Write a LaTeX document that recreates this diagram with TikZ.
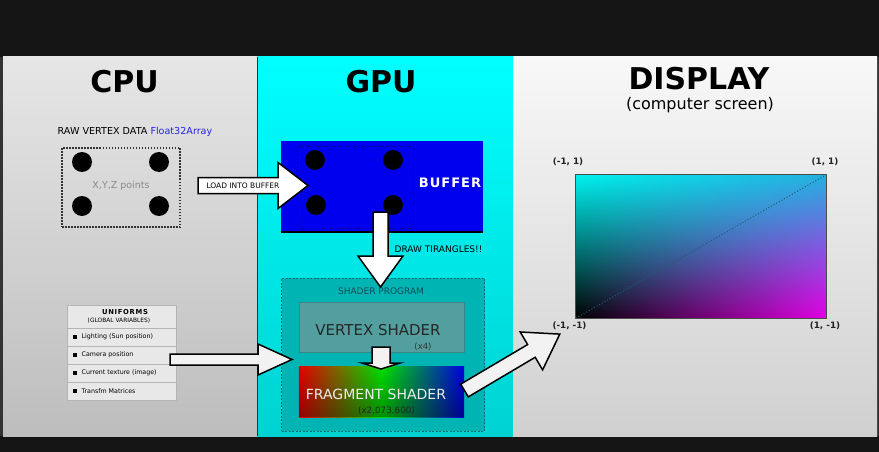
\documentclass[tikz,border=0pt]{standalone}
\usepackage{fontspec}
\setmainfont{DejaVu Sans}
\usetikzlibrary{calc,fadings}
\definecolor{bgdark}{HTML}{151515}
\definecolor{edgegray}{HTML}{333333}
\definecolor{cputop}{HTML}{E6E6E6}
\definecolor{cpubot}{HTML}{BDBDBD}
\definecolor{gputop}{HTML}{00FFFF}
\definecolor{gpubot}{HTML}{00D2D2}
\definecolor{disptop}{HTML}{F8F8F8}
\definecolor{dispbot}{HTML}{D0D0D0}
\definecolor{floatblue}{HTML}{2424E0}
\definecolor{bufblue}{HTML}{0000EE}
\definecolor{bufline}{HTML}{000080}
\definecolor{progteal}{HTML}{00B4B4}
\definecolor{progline}{HTML}{0A6E6E}
\definecolor{progtext}{HTML}{0B4F55}
\definecolor{vertfill}{HTML}{539E9E}
\definecolor{vertline}{HTML}{3F8585}
\definecolor{fragred}{HTML}{E80000}
\definecolor{fraggreen}{HTML}{00E000}
\definecolor{fragblue}{HTML}{0000E0}
\definecolor{scrcyan}{HTML}{00F2EE}
\definecolor{scrtr}{HTML}{24B0E0}
\definecolor{scrmag}{HTML}{E400E4}
\definecolor{scrdiag}{HTML}{1A5F70}
\definecolor{arrowfill}{HTML}{F2F2F2}
\definecolor{unifill}{HTML}{E8E8E8}
\definecolor{uniline}{HTML}{B4B4B4}
\definecolor{pointgray}{HTML}{8A8A8A}
\definecolor{labeldark}{HTML}{222222}

\pgfdeclarehorizontalshading{rgbshade}{100bp}{color(0bp)=(fragred); color(25bp)=(fragred); color(50bp)=(fraggreen); color(75bp)=(fragblue); color(100bp)=(fragblue)}

\newcommand{\setfs}[1]{\fontsize{#1}{#1}\selectfont}

% block arrow: #1 start, #2 tip, #3 shaft half width, #4 head half width, #5 head length, #6 style
\newcommand{\blockarr}[6]{%
  \path let \p1=($(#2)-(#1)$) in \pgfextra{%
    \pgfmathparse{atan2(\y1,\x1)}\xdef\baang{\pgfmathresult}%
    \pgfmathparse{veclen(\x1,\y1)}\xdef\balen{\pgfmathresult}};
  \begin{scope}[shift={(#1)}, rotate=\baang]
    \draw[#6] (0,-#3) -- ({\balen-#5},-#3) -- ({\balen-#5},-#4) -- (\balen,0)
      -- ({\balen-#5},#4) -- ({\balen-#5},#3) -- (0,#3) -- cycle;
  \end{scope}}

\tikzset{
  blockarrow/.style={fill=arrowfill, draw=black, line width=1.5pt, line join=miter},
  dotnode/.style={circle, fill=black, minimum size=20pt, inner sep=0pt},
  titletext/.style={font=\setfs{30}\bfseries, inner sep=0pt},
  unirow/.style={draw=uniline, fill=unifill, line width=0.6pt, minimum width=109pt, minimum height=18pt, inner sep=0pt},
  unitext/.style={anchor=west, font=\setfs{6.3}, inner sep=0pt},
  unibullet/.style={fill=black, minimum size=4.5pt, inner sep=0pt},
  corner/.style={font=\setfs{8.8}\bfseries, text=labeldark, inner sep=0pt},
}

\begin{document}
\begin{tikzpicture}[x=1pt, y=-1pt]
\useasboundingbox (0,0) rectangle (879,452);
% frame
\fill[bgdark] (0,0) rectangle (879,452);
\fill[edgegray] (0,57) rectangle (3,436);
\fill[edgegray] (877,57) rectangle (879,436);
% panels
\shade[top color=cputop, bottom color=cpubot] (3,57) rectangle (257,436);
\shade[top color=gputop, bottom color=gpubot] (257,57) rectangle (513,436);
\shade[top color=disptop, bottom color=dispbot] (513,57) rectangle (877,436);
\draw[edgegray, line width=1.3pt] (257.5,57) -- (257.5,436);

% titles
\node[titletext] (cpu) at (124.5,81.5) {CPU};
\node[titletext] (gpu) at (381,81.5) {GPU};
\node[titletext] (disp) at (699,79) {DISPLAY};
\node[font=\setfs{16}, inner sep=0pt] (dispsub) at (700,105) {(computer screen)};

% CPU raw vertex data
\node[anchor=base, font=\setfs{9.6}, inner sep=0pt] (raw) at (135,134) {RAW VERTEX DATA \textcolor{floatblue}{Float32Array}};
\node[draw=edgegray, dash pattern=on 1.5pt off 1.5pt, line width=1.3pt, minimum width=118pt, minimum height=79pt, inner sep=0pt] (vbox) at (121,187.5) {};
\node[dotnode] (c1) at (82,162) {};
\node[dotnode] (c2) at (159,162) {};
\node[dotnode] (c3) at (82,206) {};
\node[dotnode] (c4) at (159,206) {};
\node[anchor=base, font=\setfs{9.5}, text=pointgray, inner sep=0pt] (xyz) at (121,188.5) {X,Y,Z points};

% uniforms table
\node[unirow, minimum height=23pt] (uhead) at (121.5,316.5) {};
\node[font=\setfs{6.8}\bfseries, inner sep=0pt] (uname) at (125,312.5) {\addfontfeature{LetterSpace=10}UNIFORMS};
\node[font=\setfs{5.9}, inner sep=0pt] (usub) at (119,320.5) {(GLOBAL VARIABLES)};
\node[unirow] (r1) at (121.5,337) {};
\node[unirow] (r2) at (121.5,355) {};
\node[unirow] (r3) at (121.5,373) {};
\node[unirow] (r4) at (121.5,391) {};
\node[unibullet] (b1) at (75,337) {};
\node[unibullet] (b2) at (75,355) {};
\node[unibullet] (b3) at (75,373) {};
\node[unibullet] (b4) at (75,391) {};
\node[unitext] (t1) at (81.5,337) {Lighting (Sun position)};
\node[unitext] (t2) at (81.5,355) {Camera position};
\node[unitext] (t3) at (81.5,373) {Current texture (image)};
\node[unitext] (t4) at (81.5,391) {Transfm Matrices};

% buffer
\node[fill=bufblue, minimum width=202pt, minimum height=91pt, inner sep=0pt] (buf) at (382,186.5) {};
\draw[black, line width=2pt] (buf.south west) -- (buf.south east);
\node[draw=bufline, dash pattern=on 1.2pt off 1.5pt, line width=1pt, minimum width=116pt, minimum height=82pt, inner sep=0pt] (bufin) at (355,187) {};
\node[dotnode] (d1) at (315,160) {};
\node[dotnode] (d2) at (393,160) {};
\node[dotnode] (d3) at (316,205) {};
\node[dotnode] (d4) at (393,205) {};
\node[font=\setfs{13}\bfseries, text=white, inner sep=0pt] (buflabel) at (450,183) {\addfontfeature{LetterSpace=8}BUFFER};

% shader program
\node[draw=progline, fill=progteal, dash pattern=on 2pt off 1.5pt, line width=0.7pt, minimum width=203pt, minimum height=153pt, inner sep=0pt] (prog) at (383,354.5) {};
\node[anchor=base, font=\setfs{9}, text=progtext, inner sep=0pt] (proglabel) at (381,294) {SHADER PROGRAM};
\node[draw=vertline, fill=vertfill, line width=0.6pt, minimum width=165pt, minimum height=50pt, inner sep=0pt] (vert) at (381.5,327) {};
\node[anchor=base, font=\setfs{15}, text=black!85, inner sep=0pt] (vertlabel) at (378,335) {VERTEX SHADER};
\node[font=\setfs{8.5}, text=black!80, inner sep=0pt] (vertx) at (423,346.5) {(x4)};
\node[minimum width=165pt, minimum height=50pt, inner sep=0pt] (frag) at (381.5,392) {};
\shade[shading=rgbshade] (frag.south west) rectangle (frag.north east);
\fill[black, path fading=north, fill opacity=0.35] (frag.south west) rectangle (frag.north east);
\node[anchor=base, font=\setfs{14}, text=white!93!black, inner sep=0pt] (fraglabel) at (376,399.5) {FRAGMENT SHADER};
\node[font=\setfs{8.8}, text=black!85, inner sep=0pt] (fragx) at (386.5,411) {(x2,073,600)};

% display screen
\node[minimum width=250pt, minimum height=143pt, inner sep=0pt] (scr) at (701,246.5) {};
\shade[left color=black, right color=scrmag] (scr.south west) rectangle (scr.north east);
\shade[left color=scrcyan, right color=scrtr, path fading=south] (scr.south west) rectangle (scr.north east);
\draw[scrdiag, dotted, line width=1pt] (scr.south west) -- (scr.north east);
\draw[black!70, line width=0.7pt] (scr.south west) rectangle (scr.north east);
\node[corner] (tl) at (568,162) {(-1, 1)};
\node[corner] (tr) at (825,162) {(1, 1)};
\node[corner] (bl) at (569.5,326) {(-1, -1)};
\node[corner] (br) at (825,326) {(1, -1)};

% connectors (block arrows)
\coordinate (loadS) at (198,185.5);
\coordinate (loadT) at (308,185.5);
\blockarr{loadS}{loadT}{8}{23}{30}{blockarrow, fill=white}
\node[font=\setfs{7.5}, inner sep=0pt] (loadlabel) at (243,186) {LOAD INTO BUFFER};

\coordinate (drawS) at (380.5,212);
\coordinate (drawT) at (380.5,287);
\blockarr{drawS}{drawT}{7.5}{22.5}{31}{blockarrow, fill=white}
\node[anchor=base, font=\setfs{9}, inner sep=0pt] (drawlabel) at (438.5,252.5) {DRAW TIRANGLES!!};

\coordinate (uniS) at (170,359.5);
\coordinate (uniT) at (292,359.5);
\blockarr{uniS}{uniT}{5.5}{15.5}{34}{blockarrow}

\coordinate (vfS) at (381,347);
\coordinate (vfT) at (381,369);
\blockarr{vfS}{vfT}{9}{19}{6}{blockarrow}

\coordinate (fdS) at (464.5,390.5);
\coordinate (fdT) at (560,334);
\blockarr{fdS}{fdT}{7.4}{22}{33}{blockarrow}
\end{tikzpicture}
\end{document}
